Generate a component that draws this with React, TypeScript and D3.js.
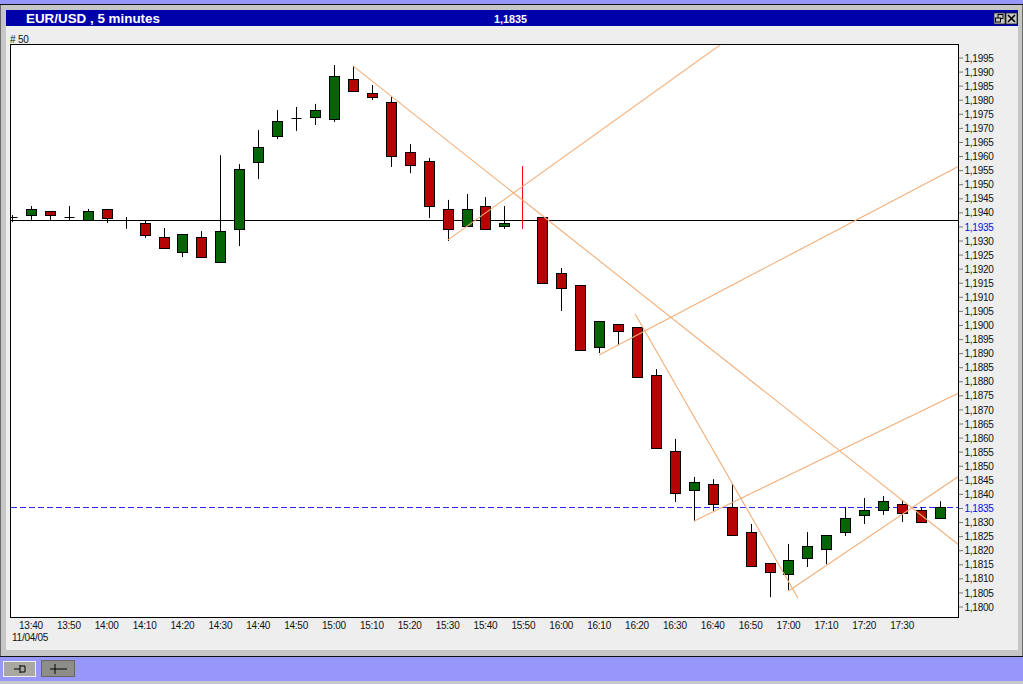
import React from "react";
import * as d3 from "d3";

const opens = [1.19385,1.19392,1.19406,1.19385,1.19375,1.19414,1.19375,1.19364,1.19314,1.19261,1.19314,1.19225,1.19343,1.19581,1.19673,1.19737,1.1974,1.19733,1.19875,1.19826,1.19794,1.19616,1.19584,1.19414,1.19353,1.19424,1.19353,1.19343,1.19385,1.19186,1.19144,1.18923,1.19005,1.18994,1.18824,1.18554,1.18415,1.18437,1.18355,1.18266,1.18156,1.18117,1.18174,1.18206,1.18266,1.18327,1.18344,1.18366,1.18344,1.18316];
const closes = [1.19385,1.19414,1.19392,1.19385,1.19406,1.19382,1.19375,1.19321,1.19275,1.19325,1.19243,1.19335,1.19556,1.19634,1.19726,1.19737,1.19765,1.19886,1.19833,1.19811,1.19602,1.1957,1.19424,1.19343,1.19414,1.19343,1.19364,1.19343,1.19151,1.19133,1.18913,1.19016,1.1898,1.18817,1.18565,1.18405,1.18444,1.18366,1.18256,1.18145,1.18124,1.18167,1.18216,1.18256,1.18316,1.18344,1.18376,1.18334,1.18302,1.18355];
const highs = [1.19392,1.19424,1.19406,1.19424,1.19414,1.19414,1.19385,1.19371,1.19346,1.19325,1.19335,1.19605,1.19573,1.19694,1.19765,1.19776,1.19787,1.19925,1.19922,1.19854,1.19815,1.19644,1.19595,1.19446,1.19467,1.19456,1.19424,1.19566,1.19385,1.19204,1.19144,1.19016,1.19005,1.18994,1.18845,1.18597,1.18462,1.18454,1.18437,1.18295,1.18156,1.18224,1.18266,1.18256,1.18355,1.18387,1.18394,1.1838,1.18355,1.18376];
const lows = [1.19367,1.19375,1.19375,1.19375,1.19375,1.19364,1.19343,1.19311,1.19275,1.19243,1.19243,1.19225,1.19282,1.1952,1.19662,1.19691,1.19712,1.19723,1.19833,1.19801,1.19563,1.19541,1.19382,1.193,1.19353,1.19343,1.19343,1.19343,1.19151,1.19051,1.18913,1.18902,1.1893,1.18817,1.18565,1.18373,1.18305,1.18341,1.18256,1.18145,1.18035,1.1806,1.18142,1.18152,1.18252,1.18295,1.18327,1.18302,1.18302,1.18316];

const flaggedCandles = [27];
const timeLabels = ["13:40","13:50","14:00","14:10","14:20","14:30","14:40","14:50","15:00","15:10","15:20","15:30","15:40","15:50","16:00","16:10","16:20","16:30","16:40","16:50","17:00","17:10","17:20","17:30"];
const priceTicks = d3.range(0, 40).map((k) => 1.18 + k * 0.0005);
const bluePrices = ["1,1835", "1,1935"];
const solidLevel = 1.19375;
const dashedLevel = 1.1835;
const trendLines: [number, number, number, number][] = [
  [18, 1.19922, 50, 1.1822],
  [23, 1.19303, 37.38, 1.19996],
  [31, 1.18895, 50, 1.19566],
  [32.9, 1.19041, 41.5, 1.18032],
  [36, 1.18305, 50, 1.1876],
  [41, 1.18057, 50, 1.18465],
];

const x = d3.scaleLinear().domain([0, 49]).range([12, 940]);
const y = d3.scaleLinear().domain([1.1995, 1.18]).range([58, 607]);
const GREEN = "#056505";
const RED = "#b40404";
const ORANGE = "#f2ae78";
const PERI = "#9797fb";
const FONT = "'Liberation Sans', Arial, sans-serif";

export default function App() {
  const line = d3.line<[number, number]>().x((d) => x(d[0])).y((d) => y(d[1]));
  return (
    <svg width={1023} height={684} style={{ position: "fixed", left: 0, top: 0 }} fontFamily={FONT}>
      <defs>
        <clipPath id="plot"><rect x={11} y={45} width={947} height={572} /></clipPath>
      </defs>
      <rect width={1023} height={684} fill={PERI} />
      <rect x={0} y={4.5} width={1023} height={652} fill="#c6c6c6" stroke="#111" strokeWidth={1} />
      <rect x={6} y={26} width={1012} height={624} fill="#eeeeee" />
      <rect x={6} y={10} width={1012} height={16} fill="#0000aa" />
      <rect x={0} y={681} width={1023} height={3} fill="#c8c8c8" />
      <text x={26} y={23} fill="#fff" fontSize={13.4} fontWeight={700}>EUR/USD , 5 minutes</text>
      <text x={494} y={23} fill="#fff" fontSize={10.8} fontWeight={700}>1,1835</text>
      {/* window buttons */}
      <rect x={994} y={13} width={11} height={11} fill="#c8c8c8" stroke="#222" strokeWidth={0.8} />
      <rect x={998} y={14.5} width={5} height={4} fill="none" stroke="#000" />
      <rect x={995.5} y={18} width={5} height={4} fill="#c8c8c8" stroke="#000" />
      <rect x={1006} y={13} width={11} height={11} fill="#c8c8c8" stroke="#222" strokeWidth={0.8} />
      <path d="M1008 15L1015 22M1015 15L1008 22" stroke="#000" strokeWidth={1.6} />

      <text x={10} y={43} fontSize={10} letterSpacing={-0.2} fill="#111">{"# 50"}</text>
      <rect x={10.5} y={44.5} width={948} height={573} fill="#fff" stroke="#000" />

      {priceTicks.map((p) => {
        const label = p.toFixed(4).replace(".", ",");
        return (
          <g key={label}>
            <line x1={959} x2={963} y1={y(p)} y2={y(p)} stroke="#777" />
            <text x={964.5} y={y(p) + 3.6} fontSize={10} letterSpacing={-0.25} fill={bluePrices.includes(label) ? "#0a0ae0" : "#111"}>{label}</text>
          </g>
        );
      })}
      {timeLabels.map((t, k) => (
        <text key={t} x={x(1 + 2 * k)} y={629} fontSize={10} letterSpacing={-0.25} textAnchor="middle" fill="#111">{t}</text>
      ))}
      <text x={12} y={641} fontSize={10} letterSpacing={-0.25} fill="#111">11/04/05</text>

      <g clipPath="url(#plot)">
        <line x1={11} x2={958} y1={Math.round(y(solidLevel)) + 0.5} y2={Math.round(y(solidLevel)) + 0.5} stroke="#000" />
        <line x1={11} x2={958} y1={Math.round(y(dashedLevel)) - 0.5} y2={Math.round(y(dashedLevel)) - 0.5} stroke="#2a2aff" strokeDasharray="6 3" />
        {opens.map((o, i) => {
          const c = closes[i];
          const cx = Math.round(x(i)) + 0.5;
          const flagged = flaggedCandles.includes(i);
          const top = y(Math.max(o, c));
          const bot = y(Math.min(o, c));
          return (
            <g key={i}>
              <line x1={flagged ? cx - 1 : cx} x2={flagged ? cx - 1 : cx} y1={y(highs[i])} y2={y(lows[i])} stroke={flagged ? "#ff0020" : "#000"} />
              {flagged ? null : o === c ? (
                <line x1={cx - 5} x2={cx + 5} y1={Math.round(top) + 0.5} y2={Math.round(top) + 0.5} stroke="#000" />
              ) : (
                <rect x={cx - 5} y={Math.round(top) + 0.5} width={10} height={Math.max(1, Math.round(bot - top))} fill={c > o ? GREEN : RED} stroke="#000" />
              )}
            </g>
          );
        })}
        {trendLines.map((t, k) => (
          <path key={k} d={line([[t[0], t[1]], [t[2], t[3]]]) as string} fill="none" stroke={ORANGE} strokeWidth={1.1} />
        ))}
      </g>

      {/* toolbar buttons */}
      <rect x={3.5} y={661.5} width={32} height={15} fill="#a8a8a0" stroke="#eee" />
      <path d="M14 669H20M20 665V673M20 666H25V672H20" fill="none" stroke="#000" />
      <rect x={41.5} y={660.5} width={33} height={16} fill="#8e8e88" stroke="#666" />
      <path d="M50 669H67M55 664V674" fill="none" stroke="#000" />
    </svg>
  );
}
